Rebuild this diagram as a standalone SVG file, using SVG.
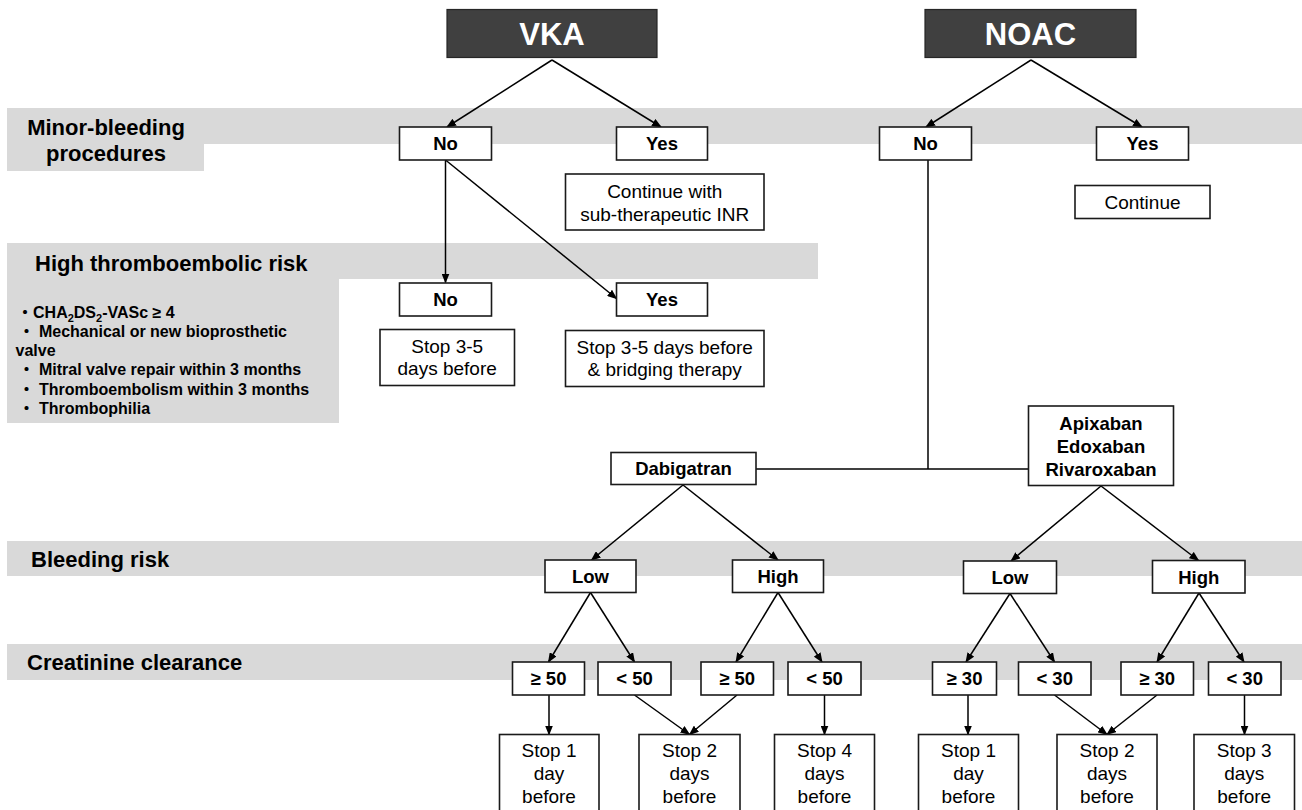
<svg xmlns="http://www.w3.org/2000/svg" width="1302" height="810" viewBox="0 0 1302 810">
<style>
.band{fill:#d9d9d9}
.head rect{fill:#404040;stroke:#262626;stroke-width:1.2}
.head text{fill:#fff;font-family:"Liberation Sans",Arial,sans-serif;font-weight:bold;font-size:31px;text-anchor:middle}
.node rect{fill:#fff;stroke:#1a1a1a;stroke-width:1.6}
.b{font-family:"Liberation Sans",Arial,sans-serif;font-weight:bold;font-size:18.5px;text-anchor:middle;fill:#000}
.r{font-family:"Liberation Sans",Arial,sans-serif;font-size:19px;text-anchor:middle;fill:#000}
.lab{font-family:"Liberation Sans",Arial,sans-serif;font-weight:bold;font-size:22px;fill:#000}
.lst{font-family:"Liberation Sans","Noto Sans CJK JP",sans-serif;font-weight:bold;font-size:16px;fill:#000}
#connectors line,#connectors polyline{stroke:#000;stroke-width:1.5;fill:none}
.a{marker-end:url(#arr)}
</style>
<defs>
<marker id="arr" markerUnits="userSpaceOnUse" markerWidth="10" markerHeight="8" refX="9" refY="4" orient="auto">
<path d="M0,0 L10,4 L0,8 Z" fill="#000"/>
</marker>
</defs>
<rect width="1302" height="810" fill="#fff"/>

<g id="bands">
<rect class="band" x="7" y="108" width="1295" height="36"/>
<rect class="band" x="7" y="108" width="197" height="63"/>
<rect class="band" x="7" y="243" width="811" height="36"/>
<rect class="band" x="7" y="243" width="332" height="180"/>
<rect class="band" x="7" y="541" width="1295" height="35"/>
<rect class="band" x="7" y="644" width="1295" height="36"/>
</g>

<g id="labels">
<text class="lab" x="106" y="135" text-anchor="middle">Minor-bleeding</text>
<text class="lab" x="106" y="161" text-anchor="middle">procedures</text>
<text class="lab" x="35" y="271">High thromboembolic risk</text>
<text class="lst" x="17" y="318">・<tspan>CHA</tspan><tspan font-size="11" dy="4">2</tspan><tspan dy="-4">DS</tspan><tspan font-size="11" dy="4">2</tspan><tspan dy="-4">-VASc ≥ 4</tspan></text>
<text class="lst" x="18.5" y="337">・ Mechanical or new bioprosthetic</text>
<text class="lst" x="15.5" y="356">valve</text>
<text class="lst" x="18.5" y="375">・ Mitral valve repair within 3 months</text>
<text class="lst" x="18.5" y="394.5">・ Thromboembolism within 3 months</text>
<text class="lst" x="18.5" y="413.5">・ Thrombophilia</text>
<text class="lab" x="31" y="566.5">Bleeding risk</text>
<text class="lab" x="27" y="669.5">Creatinine clearance</text>
</g>

<g id="connectors">
<line class="a" x1="552" y1="60" x2="447" y2="127"/>
<line class="a" x1="552" y1="60" x2="661" y2="127"/>
<line class="a" x1="1031" y1="60" x2="926" y2="127"/>
<line class="a" x1="1031" y1="60" x2="1142" y2="127"/>
<line class="a" x1="445.5" y1="160" x2="445.5" y2="282.5"/>
<line class="a" x1="445.5" y1="160" x2="616.5" y2="298.5"/>
<polyline points="928,160 928,469"/>
<line x1="756" y1="469" x2="1028.5" y2="469"/>
<line class="a" x1="683" y1="485" x2="591.5" y2="560"/>
<line class="a" x1="683" y1="485" x2="778" y2="560"/>
<line class="a" x1="1101" y1="486" x2="1011" y2="561"/>
<line class="a" x1="1101" y1="486" x2="1198.5" y2="560.5"/>
<line class="a" x1="590.5" y1="592.5" x2="548.5" y2="662"/>
<line class="a" x1="590.5" y1="592.5" x2="634.5" y2="662"/>
<line class="a" x1="778" y1="592.5" x2="736" y2="662"/>
<line class="a" x1="778" y1="592.5" x2="822" y2="662"/>
<line class="a" x1="1010" y1="593.5" x2="966" y2="662"/>
<line class="a" x1="1010" y1="593.5" x2="1054.5" y2="662"/>
<line class="a" x1="1199" y1="593" x2="1157" y2="662"/>
<line class="a" x1="1199" y1="593" x2="1244" y2="662"/>
<line class="a" x1="549" y1="695" x2="549" y2="734.5"/>
<line class="a" x1="634.5" y1="695" x2="689.5" y2="734.5"/>
<line class="a" x1="737" y1="695" x2="689.5" y2="734.5"/>
<line class="a" x1="824.5" y1="695" x2="824.5" y2="734.5"/>
<line class="a" x1="968" y1="695" x2="968" y2="734.5"/>
<line class="a" x1="1054.5" y1="695" x2="1107" y2="734.5"/>
<line class="a" x1="1157" y1="695" x2="1107" y2="734.5"/>
<line class="a" x1="1244.5" y1="695" x2="1244.5" y2="734.5"/>
</g>

<g id="vka" class="head"><rect x="447" y="9.5" width="210" height="48"/><text x="552" y="45">VKA</text></g>
<g id="noac" class="head"><rect x="925" y="9.5" width="211" height="48"/><text x="1030.5" y="45">NOAC</text></g>

<g id="vka-no" class="node"><rect x="399.5" y="127" width="92" height="33"/><text class="b" x="445.5" y="150">No</text></g>
<g id="vka-yes" class="node"><rect x="616.5" y="127" width="91" height="33"/><text class="b" x="662" y="150">Yes</text></g>
<g id="vka-continue" class="node"><rect x="565.5" y="174" width="198.5" height="56"/><text class="r" x="664.7" y="198">Continue with</text><text class="r" x="664.7" y="220.5">sub-therapeutic INR</text></g>
<g id="noac-no" class="node"><rect x="879.5" y="127" width="92" height="33"/><text class="b" x="925.5" y="150">No</text></g>
<g id="noac-yes" class="node"><rect x="1096.5" y="127" width="92" height="33"/><text class="b" x="1142.5" y="150">Yes</text></g>
<g id="noac-continue" class="node"><rect x="1075" y="185.5" width="135" height="33"/><text class="r" x="1142.5" y="209">Continue</text></g>

<g id="thr-no" class="node"><rect x="399.5" y="283" width="92" height="33"/><text class="b" x="445.5" y="306">No</text></g>
<g id="thr-yes" class="node"><rect x="616.5" y="283" width="91" height="33"/><text class="b" x="662" y="306">Yes</text></g>
<g id="thr-no-stop" class="node"><rect x="380" y="329.5" width="134.5" height="56"/><text class="r" x="447.2" y="352.5">Stop 3-5</text><text class="r" x="447.2" y="375">days before</text></g>
<g id="thr-yes-stop" class="node"><rect x="565.5" y="330.5" width="198.5" height="56"/><text class="r" x="664.7" y="353.5">Stop 3-5 days before</text><text class="r" x="664.7" y="376">&amp; bridging therapy</text></g>

<g id="dabigatran" class="node"><rect x="611" y="452.5" width="145" height="32"/><text class="b" x="683.5" y="475">Dabigatran</text></g>
<g id="xa" class="node"><rect x="1028.5" y="406" width="145" height="79.5"/><text class="b" x="1101" y="429.5">Apixaban</text><text class="b" x="1101" y="452.5">Edoxaban</text><text class="b" x="1101" y="475.5">Rivaroxaban</text></g>

<g id="d-low" class="node"><rect x="545" y="560" width="91" height="32.5"/><text class="b" x="590.5" y="583">Low</text></g>
<g id="d-high" class="node"><rect x="732.5" y="560" width="91" height="32.5"/><text class="b" x="778" y="583">High</text></g>
<g id="x-low" class="node"><rect x="963.5" y="561" width="93" height="32.5"/><text class="b" x="1010" y="584">Low</text></g>
<g id="x-high" class="node"><rect x="1152.5" y="560.5" width="92.5" height="32.5"/><text class="b" x="1198.7" y="583.5">High</text></g>

<g id="d-ge50" class="node"><rect x="512.5" y="662" width="72" height="33"/><text class="b" x="548.5" y="685">≥ 50</text></g>
<g id="d-lt50" class="node"><rect x="598" y="662" width="73" height="33"/><text class="b" x="634.5" y="685">&lt; 50</text></g>
<g id="d-ge50b" class="node"><rect x="701" y="662" width="72.5" height="33"/><text class="b" x="737.2" y="685">≥ 50</text></g>
<g id="d-lt50b" class="node"><rect x="788" y="662" width="73" height="33"/><text class="b" x="824.5" y="685">&lt; 50</text></g>
<g id="x-ge30" class="node"><rect x="932.5" y="662" width="64" height="33"/><text class="b" x="964.5" y="685">≥ 30</text></g>
<g id="x-lt30" class="node"><rect x="1018.5" y="662" width="72.5" height="33"/><text class="b" x="1054.7" y="685">&lt; 30</text></g>
<g id="x-ge30b" class="node"><rect x="1121" y="662" width="72.5" height="33"/><text class="b" x="1157.2" y="685">≥ 30</text></g>
<g id="x-lt30b" class="node"><rect x="1208.5" y="662" width="72.5" height="33"/><text class="b" x="1244.7" y="685">&lt; 30</text></g>

<g id="d-stop1" class="node"><rect x="499.5" y="734.5" width="99.5" height="90"/><text class="r" x="549" y="757">Stop 1</text><text class="r" x="549" y="780">day</text><text class="r" x="549" y="802.5">before</text></g>
<g id="d-stop2" class="node"><rect x="639" y="734.5" width="101" height="90"/><text class="r" x="689.5" y="757">Stop 2</text><text class="r" x="689.5" y="780">days</text><text class="r" x="689.5" y="802.5">before</text></g>
<g id="d-stop4" class="node"><rect x="774.5" y="734.5" width="100" height="90"/><text class="r" x="824.5" y="757">Stop 4</text><text class="r" x="824.5" y="780">days</text><text class="r" x="824.5" y="802.5">before</text></g>
<g id="x-stop1" class="node"><rect x="918.5" y="734.5" width="100" height="90"/><text class="r" x="968.5" y="757">Stop 1</text><text class="r" x="968.5" y="780">day</text><text class="r" x="968.5" y="802.5">before</text></g>
<g id="x-stop2" class="node"><rect x="1057" y="734.5" width="100" height="90"/><text class="r" x="1107" y="757">Stop 2</text><text class="r" x="1107" y="780">days</text><text class="r" x="1107" y="802.5">before</text></g>
<g id="x-stop3" class="node"><rect x="1194" y="734.5" width="100.5" height="90"/><text class="r" x="1244.2" y="757">Stop 3</text><text class="r" x="1244.2" y="780">days</text><text class="r" x="1244.2" y="802.5">before</text></g>
</svg>
